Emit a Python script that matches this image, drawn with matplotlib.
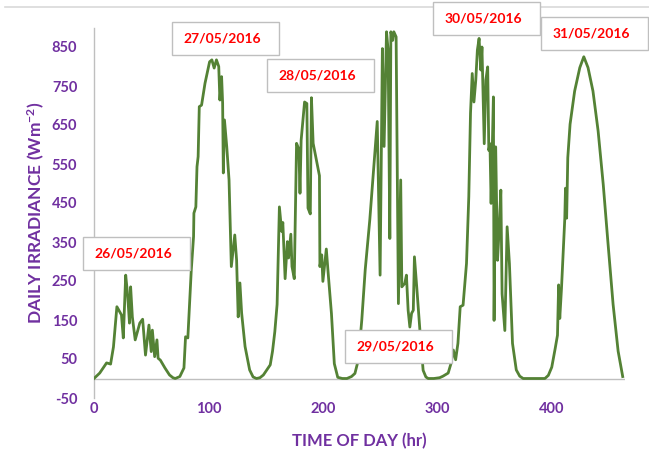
import matplotlib
matplotlib.use("Agg")
import matplotlib.pyplot as plt
from matplotlib.patches import Rectangle
from matplotlib.lines import Line2D

plt.rcParams['font.family'] = ['Lato', 'DejaVu Sans']
plt.rcParams['mathtext.fontset'] = 'custom'
plt.rcParams['mathtext.rm'] = 'Lato:bold'
plt.rcParams['mathtext.default'] = 'rm'
plt.rcParams['axes.unicode_minus'] = False

# hourly irradiance readings, 26/05 - 31/05
hours = [0, 5, 11, 14.5, 17, 20, 24, 25.6, 27.7, 29.4, 31, 32, 33.5, 36, 40, 42.5, 45, 48, 50, 51,
         53, 55, 56, 58, 62, 66, 69, 71, 75, 78.6, 80, 82, 85, 87, 87.3, 89, 90, 91, 92, 94,
         97, 101, 103, 105, 107, 109, 110, 111.5, 112.4, 113, 114, 116, 118, 120, 123, 124.6, 126, 127.5, 129, 132,
         136, 139, 142, 145, 148, 154, 156, 158, 160, 162, 164, 165, 167, 169, 170, 172, 173, 175, 177, 179,
         180, 181, 184, 186, 187, 189, 190, 191.5, 197, 197.4, 199, 200, 203, 204.6, 207.5, 210, 213, 217, 221, 225,
         228, 231, 234, 237, 241, 245.4, 247.5, 250, 252, 253.5, 255.6, 257, 258.5, 259.4, 261, 262, 264, 266, 268, 269,
         271.6, 273, 274.5, 276, 277.5, 279, 280, 282, 285, 287.6, 290, 292, 297, 302, 305, 309.5, 312, 314, 316, 318,
         320, 322.5, 324, 325.5, 327.5, 329, 330.5, 332, 333.6, 335, 336.5, 338, 339, 341, 342.4, 344, 345, 346, 347, 349,
         349.6, 351, 352.6, 354, 355.5, 356.6, 359, 361, 363, 365.7, 369, 372, 375, 385, 394, 397, 400, 403, 405, 406,
         407, 408.5, 410, 411.4, 412, 413, 414, 416, 420, 424.5, 428, 431.7, 436, 440.5, 445, 449, 453.6, 458, 462]
irradiance = [0, 14, 40, 37, 81, 184, 163, 104, 265, 214, 142, 235, 158, 99, 142, 152, 60, 137, 69, 124,
              56, 99, 52, 47, 27, 9, 2, 0, 5, 27, 107, 104, 278, 364, 424, 440, 543, 569, 697, 701,
              757, 812, 817, 796, 817, 800, 714, 774, 706, 527, 663, 594, 509, 287, 368, 304, 158, 245, 168, 82,
              22, 4, 0, 2, 9, 35, 70, 120, 190, 440, 377, 400, 256, 351, 309, 370, 287, 256, 603, 588,
              475, 611, 709, 705, 437, 422, 720, 603, 520, 287, 317, 249, 332, 271, 166, 38, 3, 0, 0, 5,
              13, 48, 150, 279, 407, 578, 659, 265, 846, 595, 889, 842, 359, 889, 867, 889, 876, 192, 509, 235,
              244, 265, 175, 132, 167, 175, 312, 235, 115, 21, 4, 0, 0, 2, 6, 14, 39, 73, 48, 90,
              184, 188, 243, 295, 466, 680, 782, 709, 765, 842, 872, 791, 850, 602, 765, 799, 585, 602, 449, 722,
              149, 594, 303, 380, 483, 217, 123, 389, 295, 90, 22, 6, 0, 0, 0, 8, 29, 77, 111, 240,
              154, 231, 325, 411, 488, 411, 566, 652, 737, 797, 825, 797, 737, 635, 497, 352, 190, 70, 5]

day_labels = ['26/05/2016', '27/05/2016', '28/05/2016', '29/05/2016', '30/05/2016', '31/05/2016']
label_x = [37, 115, 198, 266, 343, 437]
label_y = [320, 872, 776, 81, 922, 884]

purple = '#7030A0'
grey = '#BFBFBF'

fig = plt.figure(figsize=(6.49, 4.68), dpi=100)
ax = fig.add_axes([94 / 649, 1 - 398 / 468, 531 / 649, 370.5 / 468])

ax.plot(hours, irradiance, color='#548235', lw=2.0, solid_joinstyle='round', zorder=3)

ax.set_xlim(0, 464)
ax.set_ylim(-50, 900)
ax.set_xticks([0, 100, 200, 300, 400])
ax.set_yticks(range(-50, 900, 100))
ax.tick_params(length=0, labelcolor=purple, labelsize=10.5)
ax.tick_params(axis='y', pad=12)
ax.tick_params(axis='x', pad=3)
for lab in ax.get_xticklabels() + ax.get_yticklabels():
    lab.set_fontweight('bold')

for side in ['top', 'right', 'bottom']:
    ax.spines[side].set_visible(False)
ax.spines['left'].set_color(grey)
ax.spines['left'].set_linewidth(1)
ax.axhline(0, color=grey, lw=1, zorder=2)

ax.set_xlabel('TIME OF DAY (hr)', color=purple, fontsize=12, fontweight='bold')
ax.set_ylabel('DAILY IRRADIANCE (Wm$^{-2}$)', color=purple, fontsize=12.5, fontweight='bold')
ax.xaxis.set_label_coords(0.5, -0.095)
ax.yaxis.set_label_coords(-0.088, 0.5)

# chart border line along the top
fig.add_artist(Line2D([5 / 649, 1], [1 - 7 / 468] * 2, transform=fig.transFigure,
                      color='#D9D9D9', lw=1.2))

# date call-out boxes, fixed pixel size around each anchor
fig.canvas.draw()
inv = fig.transFigure.inverted()
bw, bh = 107 / 649, 33 / 468
for lab, x, y in zip(day_labels, label_x, label_y):
    cx, cy = inv.transform(ax.transData.transform((x, y)))
    fig.add_artist(Rectangle((cx - bw / 2, cy - bh / 2), bw, bh, transform=fig.transFigure,
                             facecolor='white', edgecolor=grey, lw=1, zorder=5))
    fig.text(cx - 3 / 649, cy, lab, color='#FF0000', fontsize=10, fontweight='bold',
             ha='center', va='center', zorder=6)

fig.savefig('out.png', dpi=100)
